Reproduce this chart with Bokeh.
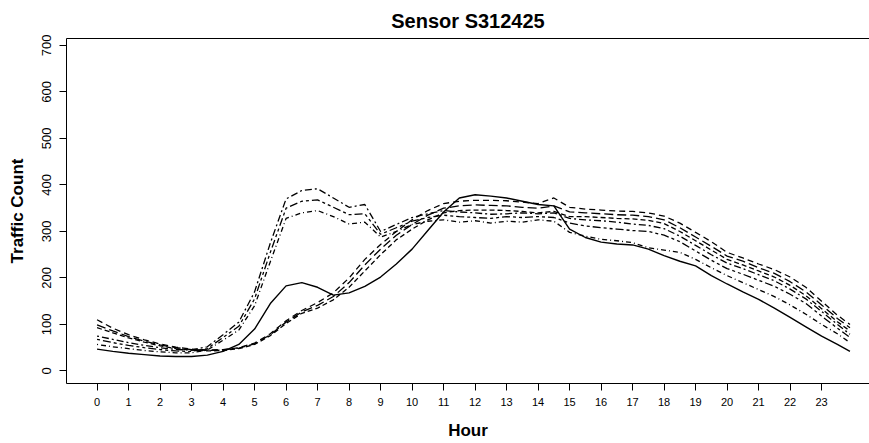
from bokeh.plotting import figure
from bokeh.models import FixedTicker, LinearAxis, Range1d
from bokeh.embed import file_html
from bokeh.resources import INLINE

hours = [0, 0.5, 1, 1.5, 2, 2.5, 3, 3.5, 4, 4.5, 5, 5.5, 6, 6.5, 7, 7.5, 8, 8.5, 9, 9.5,
         10, 10.5, 11, 11.5, 12, 12.5, 13, 13.5, 14, 14.5, 15, 15.5, 16, 16.5, 17, 17.5,
         18, 18.5, 19, 19.5, 20, 20.5, 21, 21.5, 22, 22.5, 23, 23.5, 23.9]

series_s = [47, 42, 38, 35, 32, 31, 31, 34, 42, 57,
            90, 145, 183, 190, 180, 163, 168, 182, 202, 230,
            262, 302, 342, 372, 379, 376, 372, 365, 358, 355,
            305, 287, 277, 273, 271, 262, 248, 236, 226, 205,
            187, 170, 154, 135, 115, 95, 75, 57, 42]
series_b1 = [110, 92, 78, 67, 58, 51, 47, 45, 46, 50,
             60, 80, 108, 130, 147, 168, 200, 240, 272, 300,
             325, 345, 360, 365, 367, 367, 366, 363, 360, 372,
             352, 348, 346, 344, 343, 340, 333, 318, 298, 278,
             255, 243, 230, 218, 202, 180, 150, 120, 100]
series_b2 = [99, 86, 74, 64, 56, 50, 46, 44, 45, 49,
             58, 78, 105, 127, 141, 160, 190, 228, 262, 292,
             315, 335, 350, 355, 357, 356, 355, 352, 350, 355,
             342, 340, 338, 336, 335, 332, 325, 308, 288, 268,
             247, 236, 222, 210, 192, 170, 142, 113, 93]
series_b3 = [93, 82, 71, 62, 54, 48, 45, 43, 44, 48,
             57, 76, 102, 124, 135, 153, 180, 215, 250, 282,
             305, 325, 340, 345, 346, 346, 345, 343, 340, 343,
             332, 332, 330, 328, 327, 324, 317, 300, 280, 260,
             240, 228, 215, 202, 184, 162, 134, 106, 86]
series_a1 = [75, 68, 61, 55, 50, 46, 45, 52, 78, 105,
             170, 275, 370, 388, 392, 372, 352, 358, 300, 315,
             330, 338, 345, 342, 340, 337, 338, 340, 338, 340,
             328, 325, 323, 320, 316, 313, 306, 290, 270, 250,
             232, 220, 207, 194, 176, 155, 128, 100, 79]
series_a2 = [68, 61, 55, 50, 46, 43, 42, 48, 72, 96,
             155, 255, 350, 365, 368, 352, 336, 338, 294, 308,
             322, 330, 335, 332, 330, 328, 332, 330, 332, 330,
             318, 312, 308, 305, 302, 300, 292, 278, 258, 238,
             220, 208, 195, 182, 165, 145, 118, 92, 72]
series_a3 = [57, 52, 48, 44, 41, 39, 39, 45, 66, 88,
             140, 235, 328, 340, 345, 332, 316, 320, 288, 300,
             315, 322, 325, 320, 323, 318, 322, 320, 325, 322,
             298, 290, 283, 280, 276, 265, 260, 255, 240, 222,
             205, 190, 175, 160, 142, 122, 100, 80, 61]

x_ticks = list(range(24))
y_ticks = [0, 100, 200, 300, 400, 500, 600, 700]

FONT = "Liberation Sans"

p = figure(width=869, height=443, output_backend="svg", toolbar_location=None,
           x_range=Range1d(-0.97, 24.52), y_range=Range1d(-27, 715),
           min_border_left=66, min_border_right=0, min_border_top=38, min_border_bottom=60)

p.title.text = "Sensor S312425"
p.title.align = "center"
p.title.text_font = FONT
p.title.text_font_size = "20px"
p.title.text_font_style = "bold"
p.title.text_color = "black"
p.title.standoff = 14

p.xgrid.visible = False
p.ygrid.visible = False
p.outline_line_color = None
p.background_fill_color = "white"
p.border_fill_color = "white"

styles = [
    (series_s, "solid", 1.4),
    (series_b1, "6 4", 1.3),
    (series_b2, "9 4", 1.3),
    (series_b3, "5 3", 1.3),
    (series_a1, "2 3 7 3", 1.3),
    (series_a2, "3 3 8 3 3 3", 1.3),
    (series_a3, "1 3 5 3", 1.3),
]
for ys, dash, w in styles:
    p.line(hours, ys, line_color="black", line_width=w, line_dash=dash)

for ax in (p.xaxis[0], p.yaxis[0]):
    ax.axis_line_color = "black"
    ax.axis_line_width = 1
    ax.major_tick_in = 0
    ax.major_tick_out = 7
    ax.minor_tick_line_color = None
    ax.major_tick_line_color = "black"
    ax.major_label_text_font = FONT
    ax.major_label_text_color = "black"
    ax.axis_label_text_font = FONT
    ax.axis_label_text_font_style = "bold"
    ax.axis_label_text_font_size = "17px"
    ax.axis_label_text_color = "black"

p.xaxis.ticker = FixedTicker(ticks=x_ticks)
p.xaxis.axis_label = "Hour"
p.xaxis.major_label_text_font_size = "11px"
p.xaxis.major_label_standoff = 7
p.xaxis.axis_label_standoff = 12

p.yaxis.ticker = FixedTicker(ticks=y_ticks)
p.yaxis.axis_label = "Traffic Count"
p.yaxis.major_label_text_font_size = "13px"
p.yaxis.major_label_orientation = "vertical"
p.yaxis.major_label_standoff = 8
p.yaxis.axis_label_standoff = 13

top = LinearAxis(ticker=FixedTicker(ticks=[]), major_tick_out=0, major_tick_in=0,
                 minor_tick_line_color=None, major_label_text_font_size="0px",
                 axis_line_color="black")
p.add_layout(top, "above")

open("out.html", "w").write(file_html(p, INLINE))
